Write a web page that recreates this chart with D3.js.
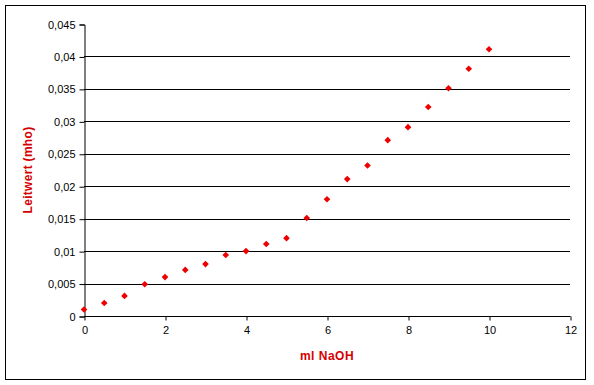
<!DOCTYPE html>
<html>
  <head>
    <meta charset="utf-8" />
    <script src="https://d3js.org/d3.v7.min.js"></script>
    <style>
      body { margin: 0; background: #fff; }
      text { font-family: Arial, "Liberation Sans", sans-serif; }
    </style>
  </head>
  <body>
    <div id="chart"></div>
    <script>
      // data
      const volume = [0, 0.5, 1, 1.5, 2, 2.5, 3, 3.5, 4, 4.5, 5, 5.5, 6, 6.5, 7, 7.5, 8, 8.5, 9, 9.5, 10];
      const conductance = [0.001, 0.002, 0.0031, 0.0049, 0.006, 0.0071, 0.008, 0.0094, 0.01, 0.0111, 0.012,
        0.0151, 0.018, 0.0211, 0.0232, 0.0271, 0.0291, 0.0322, 0.0351, 0.0381, 0.0411];
      const xTicks = [0, 2, 4, 6, 8, 10, 12];
      const yTicks = [0, 0.005, 0.01, 0.015, 0.02, 0.025, 0.03, 0.035, 0.04, 0.045];

      const width = 594;
      const height = 385;
      const plot = { left: 84, right: 570, top: 24, bottom: 316 };

      const svg = d3.select("#chart").append("svg").attr("width", width).attr("height", height);

      // outer frame
      svg.append("rect")
        .attr("x", 5.5).attr("y", 5.5)
        .attr("width", 580).attr("height", 374)
        .attr("fill", "white").attr("stroke", "black").attr("stroke-width", 1);

      const x = d3.scaleLinear().domain([0, 12]).range([plot.left, plot.right]);
      const y = d3.scaleLinear().domain([0, 0.045]).range([plot.bottom, plot.top]);

      // gridlines
      svg.append("g")
        .selectAll("line")
        .data(yTicks.filter((d) => d > 0 && d < 0.045))
        .enter()
        .append("line")
        .attr("x1", plot.left).attr("x2", plot.right)
        .attr("y1", (d) => Math.round(y(d)) + 0.5)
        .attr("y2", (d) => Math.round(y(d)) + 0.5)
        .attr("stroke", "black");

      const fmt = (d) => String(+d.toFixed(3)).replace(".", ",");

      const yAxis = svg.append("g")
        .attr("transform", `translate(${plot.left + 0.5},0.5)`)
        .call(d3.axisLeft(y).tickValues(yTicks).tickFormat(fmt).tickSize(5).tickPadding(4));

      const xAxis = svg.append("g")
        .attr("transform", `translate(0.5,${plot.bottom + 0.5})`)
        .call(d3.axisBottom(x).tickValues(xTicks).tickSize(4).tickPadding(6));

      [yAxis, xAxis].forEach((a) => {
        a.select(".domain").attr("stroke", "black");
        a.selectAll(".tick line").attr("stroke", "black");
        a.selectAll(".tick text")
          .attr("fill", "black")
          .style("font-size", "11px")
          .style("font-family", "Arial, 'Liberation Sans', sans-serif");
      });
      xAxis.select(".domain").attr("d", `M${plot.left},0H${plot.right}`);

      // points: small square turned 45 degrees
      const symbol = d3.symbol().type(d3.symbolSquare).size(22);
      svg.append("g")
        .selectAll("path")
        .data(volume.map((v, i) => ({ v: v, c: conductance[i] })))
        .enter()
        .append("path")
        .attr("d", symbol)
        .attr("transform", (d) => `translate(${x(d.v)},${y(d.c)}) rotate(45)`)
        .attr("fill", "#ee0000");

      // axis titles
      svg.append("text")
        .attr("x", (plot.left + plot.right) / 2)
        .attr("y", 360)
        .attr("text-anchor", "middle")
        .attr("fill", "#d40000")
        .style("font-size", "12px")
        .style("font-weight", "bold")
        .style("letter-spacing", "0.5px")
        .text("ml NaOH");

      svg.append("text")
        .attr("transform", `translate(32,${(plot.top + plot.bottom) / 2}) rotate(-90)`)
        .attr("text-anchor", "middle")
        .attr("fill", "#d40000")
        .style("font-size", "12px")
        .style("font-weight", "bold")
        .style("letter-spacing", "0.3px")
        .text("Leitwert (mho)");
    </script>
  </body>
</html>
